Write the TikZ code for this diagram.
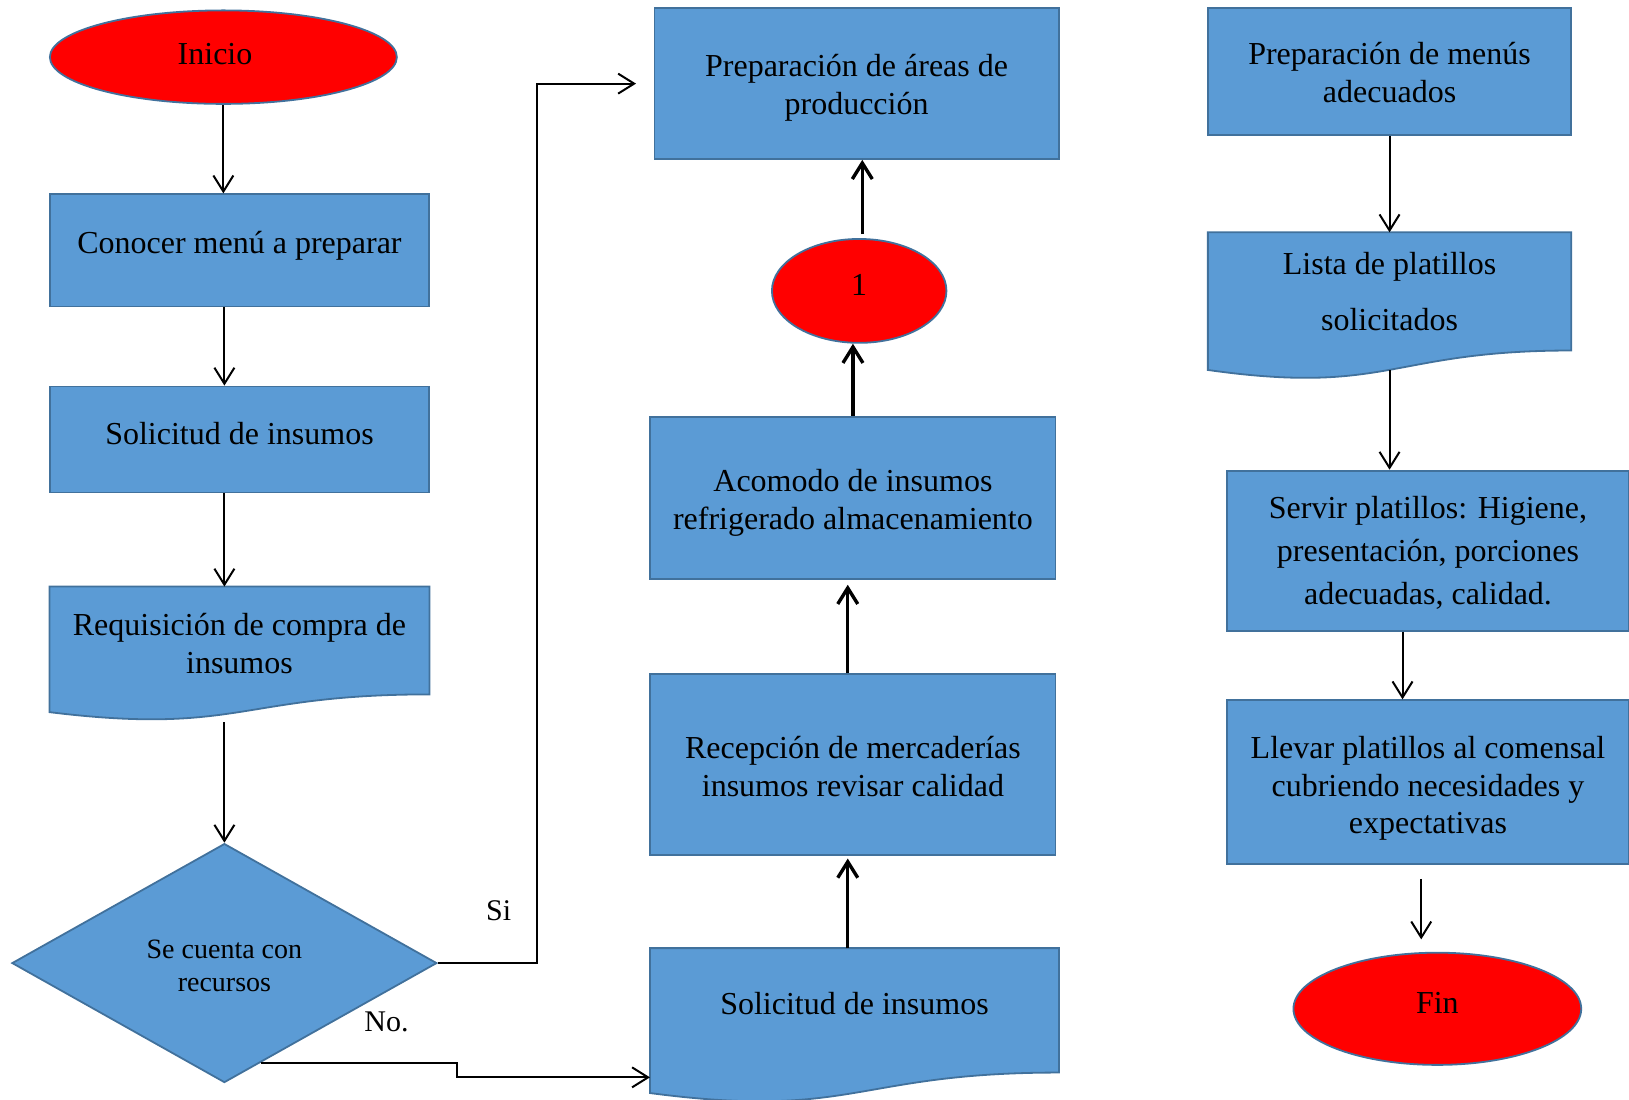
\documentclass[tikz,border=0pt]{standalone}
\usepackage{fontspec}
\setmainfont{Liberation Serif}
\usetikzlibrary{shapes.geometric,arrows.meta,calc,backgrounds}
\newcommand{\upx}{0.5195pt}
\definecolor{boxblue}{HTML}{5B9BD5}
\definecolor{edgeblue}{HTML}{41719C}
\definecolor{termred}{HTML}{FF0000}

\begin{document}
\begin{tikzpicture}[x=\upx, y=-\upx,
  every node/.style={font=\fontsize{16}{18.7}\selectfont, align=center, inner sep=0pt},
  proc/.style={rectangle, fill=boxblue, draw=edgeblue, line width=0.9pt},
  docnode/.style={rectangle},
  term/.style={ellipse, fill=termred, draw=edgeblue, line width=0.9pt},
  decision/.style={diamond, fill=boxblue, draw=edgeblue, line width=0.9pt},
  docshape/.style={fill=boxblue, draw=edgeblue, line width=0.9pt},
  arrthin/.style={-{Straight Barb[length=8pt,width=10pt]}, line width=1pt},
  arrbold/.style={-{Straight Barb[length=8pt,width=10pt]}, line width=1.7pt},
  lbl/.style={font=\fontsize{15}{18}\selectfont},
  % caption of a shape, moved up (+) or down (-) by #1 picture units
  cap/.style 2 args={label={[yshift=#1*\upx]center:{#2}}}
]
\useasboundingbox (0,0) rectangle (1568,1058);

% left column
\node[term, minimum width=334*\upx, minimum height=90*\upx,
      label={[xshift=-8*\upx, yshift=3*\upx]center:Inicio}] (ini) at (215,55) {};
\node[proc, minimum width=365*\upx, minimum height=108*\upx,
      cap={4}{Conocer menú a preparar}] (con) at (230.5,241) {};
\node[proc, minimum width=365*\upx, minimum height=102*\upx,
      cap={6}{Solicitud de insumos}] (sol1) at (230.5,423) {};
\node[docnode, minimum width=365*\upx, minimum height=103*\upx,
      cap={-3}{Requisición de compra de\\insumos}] (req) at (230.5,616.5) {};
\node[decision, minimum width=409*\upx, minimum height=230*\upx, shape aspect=1.78,
      label={[yshift=-3*\upx, font=\fontsize{14}{16.6}\selectfont]center:{Se cuenta con\\recursos}}] (dia) at (216,927) {};

% middle column
\node[proc, minimum width=389*\upx, minimum height=145*\upx,
      cap={-4}{Preparación de áreas de\\producción}] (pre) at (824.5,80.5) {};
\node[term, minimum width=168*\upx, minimum height=100*\upx,
      cap={6}{1}] (one) at (827,280) {};
\node[proc, minimum width=390*\upx, minimum height=156*\upx,
      cap={-5}{Acomodo de insumos\\refrigerado almacenamiento}] (aco) at (821,479) {};
\node[proc, minimum width=390*\upx, minimum height=174*\upx,
      cap={-2}{Recepción de mercaderías\\insumos revisar calidad}] (rec) at (821,736) {};
\node[docnode, minimum width=393*\upx, minimum height=119*\upx,
      cap={7}{Solicitud de insumos}] (sol2) at (822.5,972.5) {};

% right column
\node[proc, minimum width=349*\upx, minimum height=122*\upx,
      cap={-1}{Preparación de menús\\adecuados}] (men) at (1337.5,69) {};
\node[docnode, minimum width=349*\upx, minimum height=113*\upx,
      cap={0}{Lista de platillos\\[9.3pt]solicitados}] (lis) at (1337.5,280.5) {};
\node[proc, minimum width=387*\upx, minimum height=154*\upx,
      label={[yshift=-2.5*\upx, font=\fontsize{16}{21.5}\selectfont]center:{Servir platillos: Higiene,\\presentación, porciones\\adecuadas, calidad.}}] (ser) at (1374.5,530) {};
\node[proc, minimum width=387*\upx, minimum height=158*\upx,
      cap={-6}{Llevar platillos al comensal\\cubriendo necesidades y\\expectativas}] (lle) at (1374.5,753) {};
\node[term, minimum width=277*\upx, minimum height=108*\upx,
      cap={6}{Fin}] (fin) at (1383.5,971) {};

% document shapes with a wavy lower edge
\begin{scope}[on background layer]
  \foreach \n in {req,lis,sol2}
    \draw[docshape] (\n.north west) -- (\n.north east) -- (\n.south east)
      .. controls (\n.south) and ($(\n.north)!1.381!(\n.south)$) ..
      ($(\n.north west)!1.1646!(\n.south west)$) -- cycle;
\end{scope}

% branch labels
\node[lbl] (si) at (480,877) {Si};
\node[lbl] (no) at (372,984) {No.};

% connectors, left column
\draw[arrthin] (ini.south) -- (ini.south |- con.north);
\draw[arrthin] (dia.north |- con.south) -- (dia.north |- sol1.north);
\draw[arrthin] (dia.north |- sol1.south) -- (dia.north |- req.north);
\coordinate (reqbot) at ($(req.north)!1.26!(req.south)$);
\draw[arrthin] (reqbot -| dia.north) -- (dia.north);

% decision branches
\coordinate (sibend) at (517,0);
\draw[arrthin, shorten >=8.8pt] (dia.east) -| (sibend |- pre.west) -- (pre.west);
\coordinate (nostart) at ($(dia.south)!0.17!(dia.east)$);
\coordinate (nobend) at (440,1037);
\draw[arrthin] (nostart) -| (nobend) -- (nobend -| sol2.west);

% connectors, middle column
\coordinate (midx) at (816,0);
\coordinate (topx) at (830,0);
\draw[arrbold, shorten >=1.3pt] (midx |- sol2.north) -- (midx |- rec.south);
\draw[arrbold, shorten >=2.6pt] (midx |- rec.north) -- (midx |- aco.south);
\draw[arrbold] (aco.north) -- (aco.north |- one.south);
\draw[arrbold, shorten <=2pt] (topx |- one.north) -- (topx |- pre.south);

% connectors, right column
\draw[arrthin] (men.south) -- (men.south |- lis.north);
\coordinate (lisbot) at ($(lis.north)!1.163!(lis.south)$);
\draw[arrthin] (lisbot) -- (lisbot |- ser.north);
\coordinate (serx) at (1350,0);
\draw[arrthin] (serx |- ser.south) -- (serx |- lle.north);
\coordinate (llex) at (1368,0);
\draw[arrthin, shorten <=6.8pt, shorten >=6.2pt] (llex |- lle.south) -- (llex |- fin.north);
\end{tikzpicture}
\end{document}
